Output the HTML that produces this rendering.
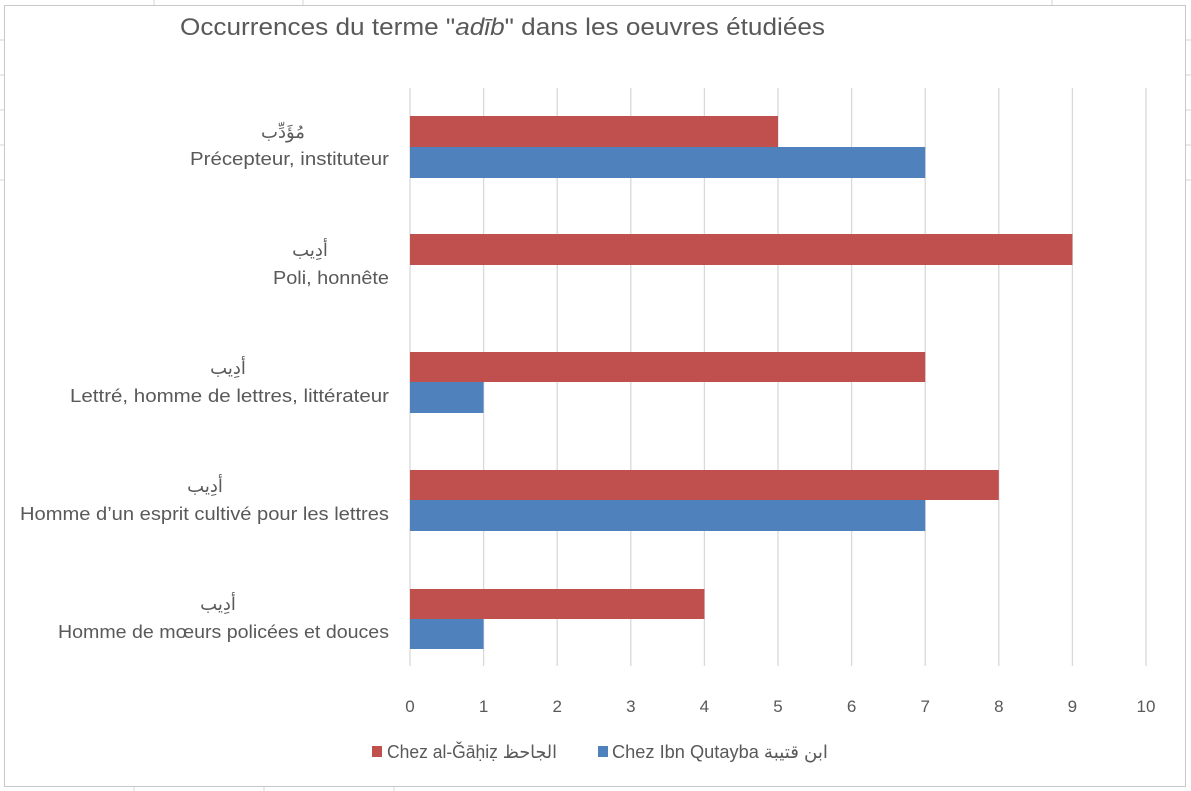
<!DOCTYPE html>
<html><head><meta charset="utf-8"><style>
html,body{margin:0;padding:0;background:#fff}
svg{display:block}
text{font-family:"Liberation Sans","DejaVu Sans",sans-serif;fill:#595959}
</style></head><body>
<svg width="1191" height="791" viewBox="0 0 1191 791" xmlns="http://www.w3.org/2000/svg">
<rect x="0" y="0" width="1191" height="791" fill="#fff"/>
<g stroke="#d4d4d4" stroke-width="1">
<line x1="154" y1="0" x2="154" y2="5"/><line x1="303" y1="0" x2="303" y2="5"/><line x1="1052" y1="0" x2="1052" y2="5"/>
<line x1="0" y1="40" x2="4" y2="40"/><line x1="0" y1="75" x2="4" y2="75"/><line x1="0" y1="110" x2="4" y2="110"/><line x1="0" y1="145" x2="4" y2="145"/><line x1="0" y1="180" x2="4" y2="180"/>
<line x1="1186" y1="40" x2="1191" y2="40"/><line x1="1186" y1="75" x2="1191" y2="75"/><line x1="1186" y1="110" x2="1191" y2="110"/><line x1="1186" y1="145" x2="1191" y2="145"/><line x1="1186" y1="180" x2="1191" y2="180"/>
<line x1="134" y1="786" x2="134" y2="791"/><line x1="264" y1="786" x2="264" y2="791"/><line x1="394" y1="786" x2="394" y2="791"/>
</g>
<rect x="4.5" y="5.5" width="1181" height="781" fill="#fff" stroke="#c8c8c8"/>
<text x="180" y="35" font-size="24" textLength="645" lengthAdjust="spacingAndGlyphs" fill="#595959">Occurrences du terme "<tspan font-style="italic">adīb</tspan>" dans les oeuvres étudiées</text>
<g stroke="#d9d9d9" stroke-width="1.3">
<line x1="410" y1="88" x2="410" y2="666"/><line x1="483.6" y1="88" x2="483.6" y2="666"/><line x1="557.2" y1="88" x2="557.2" y2="666"/><line x1="630.8" y1="88" x2="630.8" y2="666"/><line x1="704.4" y1="88" x2="704.4" y2="666"/><line x1="778" y1="88" x2="778" y2="666"/><line x1="851.6" y1="88" x2="851.6" y2="666"/><line x1="925.2" y1="88" x2="925.2" y2="666"/><line x1="998.8" y1="88" x2="998.8" y2="666"/><line x1="1072.4" y1="88" x2="1072.4" y2="666"/><line x1="1146" y1="88" x2="1146" y2="666"/>
</g>
<g fill="#c0504d">
<rect x="410" y="116" width="368" height="31"/>
<rect x="410" y="234" width="662.4" height="31"/>
<rect x="410" y="352" width="515.2" height="30"/>
<rect x="410" y="470" width="588.8" height="30"/>
<rect x="410" y="589" width="294.4" height="30"/>
</g>
<g fill="#4f81bd">
<rect x="410" y="147" width="515.2" height="31"/>
<rect x="410" y="382" width="73.6" height="31"/>
<rect x="410" y="500" width="515.2" height="31"/>
<rect x="410" y="619" width="73.6" height="30"/>
</g>
<g font-size="18">
<text x="283" y="138" text-anchor="middle">مُؤَدِّب</text>
<text x="190" y="165" textLength="199" lengthAdjust="spacingAndGlyphs">Précepteur, instituteur</text>
<text x="310" y="256" text-anchor="middle">أدِيب</text>
<text x="273" y="284" textLength="116" lengthAdjust="spacingAndGlyphs">Poli, honnête</text>
<text x="228" y="374" text-anchor="middle">أدِيب</text>
<text x="70" y="402" textLength="319" lengthAdjust="spacingAndGlyphs">Lettré, homme de lettres, littérateur</text>
<text x="205" y="492" text-anchor="middle">أدِيب</text>
<text x="20" y="520" textLength="369" lengthAdjust="spacingAndGlyphs">Homme d’un esprit cultivé pour les lettres</text>
<text x="218" y="610" text-anchor="middle">أدِيب</text>
<text x="58" y="638" textLength="331" lengthAdjust="spacingAndGlyphs">Homme de mœurs policées et douces</text>
</g>
<g font-size="17" text-anchor="middle">
<text x="410" y="712">0</text><text x="483.6" y="712">1</text><text x="557.2" y="712">2</text><text x="630.8" y="712">3</text><text x="704.4" y="712">4</text><text x="778" y="712">5</text><text x="851.6" y="712">6</text><text x="925.2" y="712">7</text><text x="998.8" y="712">8</text><text x="1072.4" y="712">9</text><text x="1146" y="712">10</text>
</g>
<rect x="372" y="746" width="10" height="11" fill="#c0504d"/>
<text x="387" y="758" font-size="18" textLength="170" lengthAdjust="spacingAndGlyphs">Chez al-Ǧāḥiẓ الجاحظ</text>
<rect x="598" y="746" width="10" height="11" fill="#4f81bd"/>
<text x="612" y="758" font-size="18" textLength="216" lengthAdjust="spacingAndGlyphs">Chez Ibn Qutayba ابن قتيبة</text>
</svg>
</body></html>
